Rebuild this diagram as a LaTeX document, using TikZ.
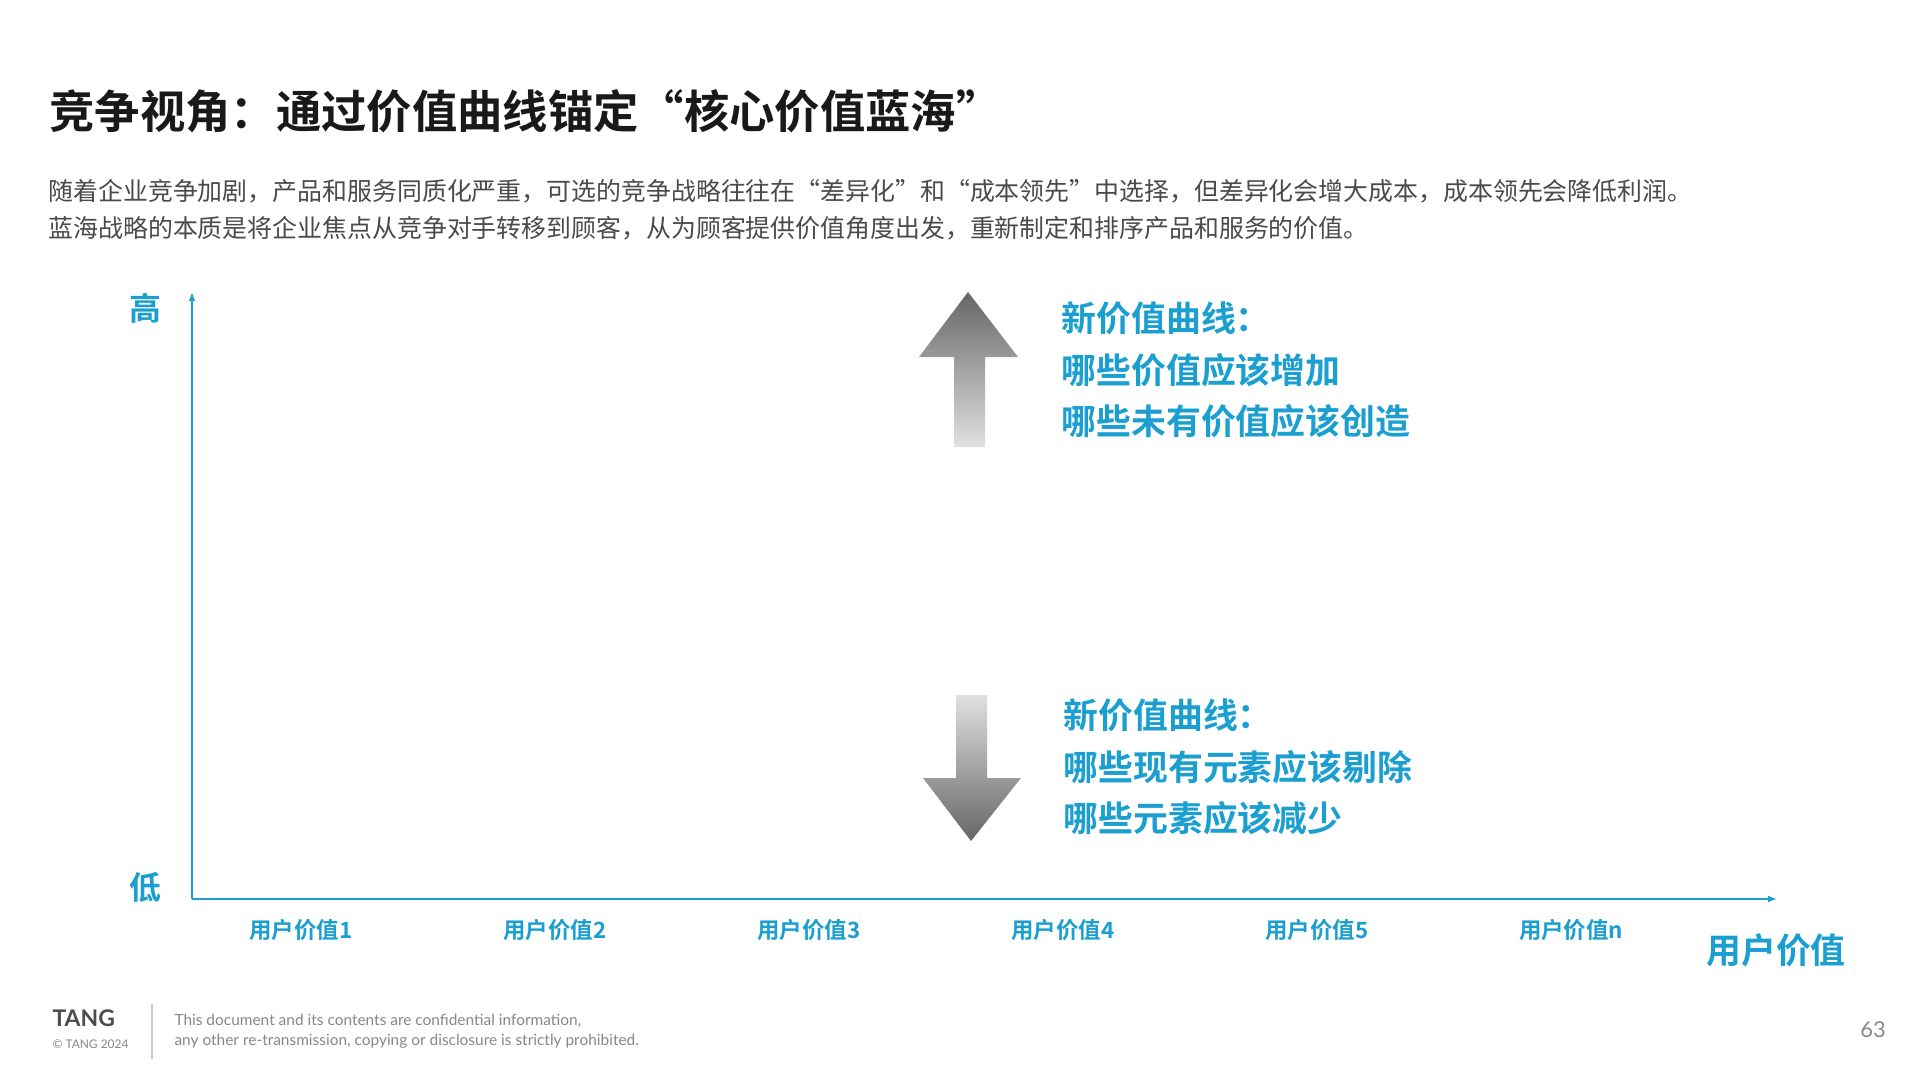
\documentclass[tikz,border=0pt]{standalone}
\usepackage{fontspec}
\usetikzlibrary{arrows.meta}
\setmainfont{Noto Sans CJK SC}
\newfontfamily\cjkb{Noto Sans CJK SC Bold}
\newfontfamily\lato{Lato}
\definecolor{ax}{HTML}{1A9FD0}
\definecolor{txt}{HTML}{4A4A4A}
\definecolor{ft}{HTML}{888888}
\begin{document}
\begin{tikzpicture}[x=1bp,y=-1bp,
  lab/.style={font=\cjkb\fontsize{22.5}{26}\selectfont,text=ax},
  blk/.style={font=\cjkb\fontsize{35}{52}\selectfont,text=ax,align=left,anchor=west}]
\useasboundingbox[fill=white] (0,0) rectangle (1920,1080);
\node[anchor=west,font=\cjkb\fontsize{45.5}{50}\selectfont,text=black!90] (title) at (46,111) {竞争视角：通过价值曲线锚定“核心价值蓝海”};
\node[anchor=west,font=\fontsize{25}{37}\selectfont,text=txt,align=left] (sub) at (45,210) {随着企业竞争加剧，产品和服务同质化严重，可选的竞争战略往往在“差异化”和“成本领先”中选择，但差异化会增大成本，成本领先会降低利润。\\蓝海战略的本质是将企业焦点从竞争对手转移到顾客，从为顾客提供价值角度出发，重新制定和排序产品和服务的价值。};
\coordinate (o) at (192,899);
\coordinate (yt) at (192,292);
\coordinate (xr) at (1777,899);
\draw[ax,line width=1.8pt,-{Latex[length=9,width=7]}] (o) -- (yt);
\draw[ax,line width=1.8pt,-{Latex[length=9,width=7]}] (o) -- (xr);
\node[lab,font=\cjkb\fontsize{32}{36}\selectfont] (hi) at (145,308) {高};
\node[lab,font=\cjkb\fontsize{32}{36}\selectfont] (lo) at (145,887) {低};
\foreach \x/\t [count=\i] in {301/1,555/2,809/3,1063/4,1317/5,1571/n}
  \node[lab] (u\i) at (\x,930) {用户价值\t};
\node[lab,font=\cjkb\fontsize{35}{40}\selectfont] (ux) at (1776,950) {用户价值};
\shade[top color=black!60,bottom color=black!12] (968,292) -- (1018,357) -- (985,357) -- (985,447) -- (954,447) -- (954,357) -- (919,357) -- cycle;
\shade[top color=black!12,bottom color=black!60] (956,695) -- (987,695) -- (987,778) -- (1021,778) -- (971,841) -- (923,778) -- (956,778) -- cycle;
\node[blk] (t1) at (1058,370) {新价值曲线：\\哪些价值应该增加\\哪些未有价值应该创造};
\node[blk] (t2) at (1060,767) {新价值曲线：\\哪些现有元素应该剔除\\哪些元素应该减少};
\node[anchor=west,font=\lato\bfseries\fontsize{23}{26}\selectfont,text=black!70] (tang) at (49,1018) {TANG};
\node[anchor=west,font=\lato\fontsize{12}{14}\selectfont,text=ft] (c) at (49,1044) {© TANG 2024};
\coordinate (l1) at (152,1004); \coordinate (l2) at (152,1059);
\draw[black!20,line width=1.2pt] (l1) -- (l2);
\node[anchor=west,font=\lato\fontsize{15.5}{20}\selectfont,text=ft,align=left] (conf) at (171,1031) {This document and its contents are confidential information,\\any other re-transmission, copying or disclosure is strictly prohibited.};
\node[font=\lato\fontsize{22}{26}\selectfont,text=ft] (pg) at (1873,1030) {63};
\end{tikzpicture}
\end{document}
